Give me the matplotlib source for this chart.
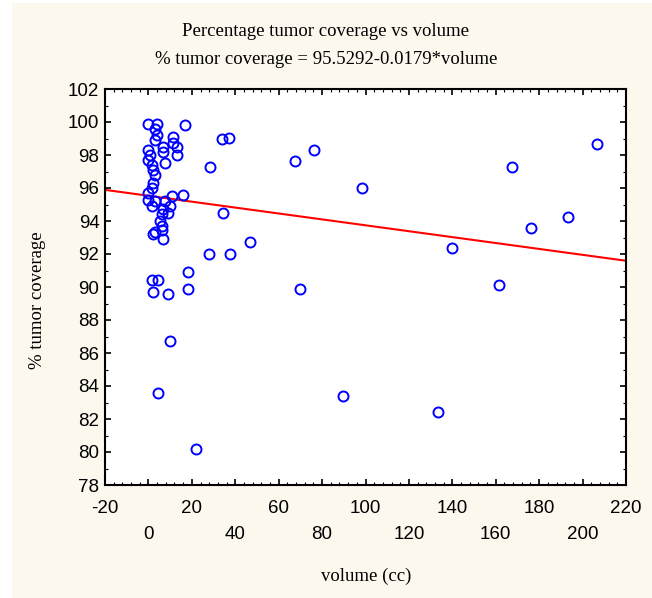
import numpy as np
import matplotlib
matplotlib.use("Agg")
import matplotlib.pyplot as plt
from matplotlib.patches import Rectangle
from matplotlib.ticker import MultipleLocator

# data: volume (cc) and % tumor coverage
volume = [0.0, 3.8, 3.0, 16.9, 3.8, 11.5, 3.0, 6.9, 11.5, 13.0,
          0.0, 0.7, 6.9, 13.0, 0.0, 7.6, 1.5, 2.3, 3.0, 2.3,
          1.5, 0.0, 0.0, 3.0, 7.6, 10.7, 16.1, 1.5, 6.9, 9.9,
          6.1, 9.2, 5.3, 6.1, 3.0, 6.1, 2.3, 6.9,
          28.4, 33.8, 37.2, 34.2, 28.0, 37.4, 47.0, 18.4, 1.5, 4.6,
          2.0, 9.2, 18.4, 9.9, 4.3, 21.8, 67.5, 76.3, 98.4, 69.8,
          89.5, 133.5, 139.7, 161.6, 167.3, 176.1, 193.4, 206.8]
coverage = [99.9, 99.9, 99.6, 99.8, 99.2, 99.1, 98.9, 98.5, 98.7, 98.5,
            98.3, 98.0, 98.2, 98.0, 97.7, 97.5, 97.4, 97.1, 96.8, 96.3,
            96.0, 95.7, 95.3, 95.2, 95.2, 95.5, 95.6, 94.9, 94.7, 94.9,
            94.4, 94.5, 94.0, 93.7, 93.35, 93.45, 93.2, 92.9,
            97.25, 98.95, 99.05, 94.5, 92.0, 92.0, 92.75, 90.9, 90.4, 90.4,
            89.7, 89.6, 89.9, 86.7, 83.55, 80.2, 97.65, 98.3, 96.0, 89.85,
            83.4, 82.45, 92.35, 90.1, 97.25, 93.6, 94.25, 98.65]

# fitted line from the subtitle
intercept = 95.5292
slope = -0.0179

x_ticks = list(range(-20, 221, 20))
y_ticks = list(range(78, 103, 2))

beige = "#fdf8ee"
serif = "Liberation Serif"
sans = "Liberation Sans"

fig = plt.figure(figsize=(6.52, 5.98), dpi=100)
fig.patch.set_facecolor("white")
fig.add_artist(Rectangle((12 / 652, 0), 1, 595 / 598, transform=fig.transFigure,
                         facecolor=beige, edgecolor="none", zorder=-5))

ax = fig.add_axes([105 / 652, 1 - 485 / 598, 521 / 652, 396 / 598])
ax.set_facecolor("white")

xs = np.array([-20, 220])
ax.plot(xs, intercept + slope * xs, color="red", lw=1.5, zorder=2)
ax.plot(volume, coverage, "o", ms=7.2, mfc="none", mec="blue", mew=1.4, zorder=3)

ax.set_xlim(-20, 220)
ax.set_ylim(78, 102)
ax.set_xticks(x_ticks)
ax.set_xticklabels([str(v) if i % 2 == 0 else "\n" + str(v) for i, v in enumerate(x_ticks)],
                   family=sans, fontsize=13.5, linespacing=1.75)
ax.set_yticks(y_ticks)
ax.set_yticklabels([str(v) for v in y_ticks], family=sans, fontsize=13.5)
ax.xaxis.set_minor_locator(MultipleLocator(4))
ax.yaxis.set_minor_locator(MultipleLocator(1))
ax.tick_params(which="both", direction="in", top=True, right=True, color="black")
ax.tick_params(which="major", length=4, width=1.2)
ax.tick_params(which="minor", length=2, width=0.8)
ax.tick_params(axis="x", which="major", pad=10.5)
ax.tick_params(axis="y", which="major", pad=4)
for s in ax.spines.values():
    s.set_linewidth(1.5)

fig.text(0.5, 1 - 32 / 598, "Percentage tumor coverage vs volume", ha="center", va="center",
         family=serif, fontsize=13.5)
fig.text(0.5, 1 - 60 / 598, "% tumor coverage = 95.5292-0.0179*volume", ha="center", va="center",
         family=serif, fontsize=13.5)
fig.text(38 / 652, 1 - 300 / 598, "% tumor coverage", rotation=90, ha="center", va="center",
         family=serif, fontsize=13.5)
fig.text(366 / 652, 1 - 576 / 598, "volume (cc)", ha="center", va="center",
         family=serif, fontsize=13.5)

fig.savefig("out.png", dpi=100)
